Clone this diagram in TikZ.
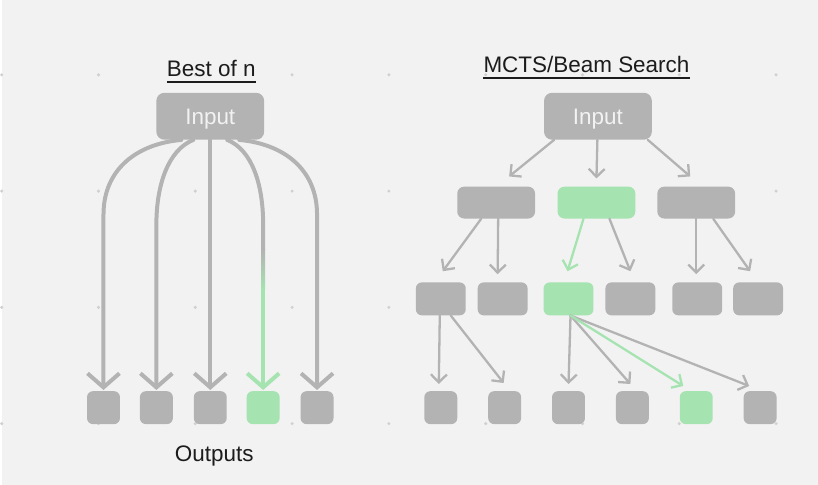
\documentclass[tikz,border=0pt]{standalone}
\usepackage{fontspec}
\setmainfont{Liberation Sans}
\usetikzlibrary{arrows.meta}
\definecolor{bg}{HTML}{F2F2F2}
\definecolor{dotc}{HTML}{D0D0D0}
\definecolor{cellc}{HTML}{B3B3B3}
\definecolor{pickc}{HTML}{A5E3B0}
\definecolor{inkc}{HTML}{1C1C1C}
\begin{document}
\begin{tikzpicture}[x=1pt,y=-1pt]
	\tikzstyle{cell} = [fill=cellc,rounded corners=6pt,inner sep=0pt,minimum size=33pt]
	\tikzstyle{pick} = [fill=pickc]
	\tikzstyle{mid} = [cell,minimum width=50pt]
	\tikzstyle{wide} = [cell,minimum width=78pt,minimum height=32pt,rounded corners=7pt]
	\tikzstyle{lead} = [cell,minimum width=108pt,minimum height=47pt,rounded corners=8pt,text=bg,font=\fontsize{22.5}{27}\selectfont,text height=16pt,text depth=0pt]
	\tikzstyle{title} = [inner sep=0pt,text=inkc,font=\fontsize{22.5}{27}\selectfont]
	\tikzstyle{fan} = [draw=cellc,line width=4pt,line cap=round,-{Straight Barb[length=14pt,width=32pt]},shorten >=1pt]
	\tikzstyle{link} = [draw=cellc,line width=2.3pt,line cap=round,-{Straight Barb[length=8pt,width=16pt]}]

	\fill[bg] (0,0) rectangle (818,486);
	\foreach \x in {0,97,...,776}
		\foreach \y in {75,191.5,308,424.5}
			\fill[dotc] (\x,\y) circle (1.7pt);

	% best of n
	\node[title,anchor=base] (t1) at (210,77) {Best of n};
	\draw[inkc,line width=1.6pt] ([yshift=-5pt]t1.base west) -- ([yshift=-5pt]t1.base east);
	\node[lead] (in1) at (209,116.5) {Input};
	\node[cell] (o1) at (102,408.5) {};
	\node[cell] (o2) at (155,408.5) {};
	\node[cell] (o3) at (209,408.5) {};
	\node[cell,pick] (o4) at (262,408.5) {};
	\node[cell] (o5) at (316,408.5) {};
	\node[title,anchor=base] (out) at (213,462) {Outputs};

	\draw[fan] ([xshift=-29pt]in1.south) .. controls +(-45,4) and +(0,-45) .. (o1 |- 0,215) -- (o1);
	\draw[fan] ([xshift=-17pt]in1.south) .. controls +(-25,10) and +(0,-40) .. (o2 |- 0,225) -- (o2);
	\draw[fan] (in1) -- (o3);
	\draw[cellc,line width=4pt,line cap=round] ([xshift=17pt]in1.south) .. controls +(25,10) and +(0,-40) .. (o4 |- 0,225) -- (o4 |- 0,250);
	\shade[top color=cellc,bottom color=pickc] (260,250) rectangle (264,290);
	\draw[fan,draw=pickc] (o4 |- 0,290) -- (o4);
	\draw[fan] ([xshift=29pt]in1.south) .. controls +(45,4) and +(0,-45) .. (o5 |- 0,215) -- (o5);

	% tree search
	\node[title,anchor=base] (t2) at (586,73) {MCTS/Beam Search};
	\draw[inkc,line width=1.6pt] ([yshift=-5pt]t2.base west) -- ([yshift=-5pt]t2.base east);
	\node[lead] (in2) at (597.5,116.5) {Input};

	\node[wide] (a1) at (495.5,203) {};
	\node[wide,pick] (a2) at (596,203) {};
	\node[wide] (a3) at (696,203) {};

	\node[mid] (b1) at (440,299.5) {};
	\node[mid] (b2) at (502,299.5) {};
	\node[mid,pick] (b3) at (568,299.5) {};
	\node[mid] (b4) at (630,299.5) {};
	\node[mid] (b5) at (697,299.5) {};
	\node[mid] (b6) at (758,299.5) {};

	\node[cell] (c1) at (440,408.5) {};
	\node[cell] (c2) at (504,408.5) {};
	\node[cell] (c3) at (568,408.5) {};
	\node[cell] (c4) at (632,408.5) {};
	\node[cell,pick] (c5) at (696,408.5) {};
	\node[cell] (c6) at (760,408.5) {};

	\path ([xshift=-44pt]in2.south) edge[link] ([xshift=13pt,yshift=10pt]a1.north);
	\path (in2) edge[link] ([yshift=8pt]a2.north);
	\path ([xshift=50pt]in2.south) edge[link] ([xshift=-6pt,yshift=10pt]a3.north);

	\path ([xshift=-15pt]a1.south) edge[link] ([xshift=2pt,yshift=11pt]b1.north);
	\path ([xshift=2pt]a1.south) edge[link] ([xshift=-5pt,yshift=8pt]b2.north);
	\path ([xshift=-13pt]a2.south) edge[link,draw=pickc] ([xshift=-1pt,yshift=11pt]b3.north);
	\path ([xshift=13pt]a2.south) edge[link] ([yshift=11pt]b4.north);
	\path (a3) edge[link] ([xshift=-1pt,yshift=8pt]b5.north);
	\path ([xshift=17pt]a3.south) edge[link] ([xshift=-8pt,yshift=11pt]b6.north);

	\path ([xshift=-1pt]b1.south) edge[link] ([xshift=-2pt,yshift=7pt]c1.north);
	\path ([xshift=10pt]b1.south) edge[link] ([xshift=-1pt,yshift=8pt]c2.north);
	\path ([xshift=2pt]b3.south) edge[link] ([yshift=7pt]c3.north);
	\path ([xshift=2pt]b3.south) edge[link] ([xshift=-2pt,yshift=7pt]c4.north);
	\path ([xshift=2pt]b3.south) edge[link] ([xshift=-11pt,yshift=5pt]c6.north);
	\path ([xshift=2pt]b3.south) edge[link,draw=pickc] ([xshift=-13pt,yshift=5pt]c5.north);
\end{tikzpicture}
\end{document}
